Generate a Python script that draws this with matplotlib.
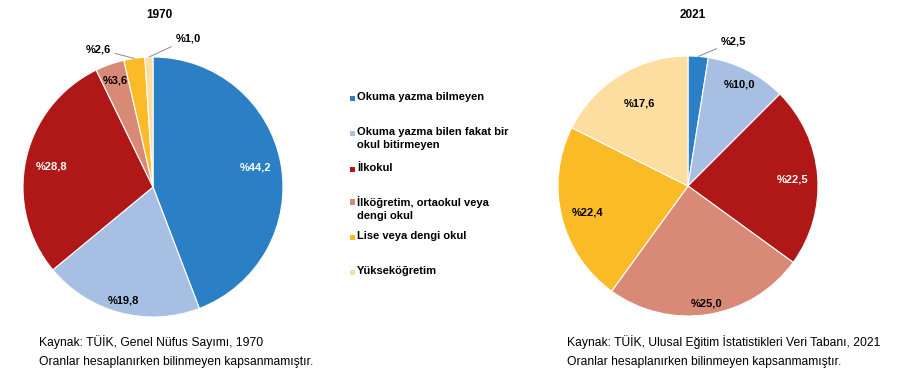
import numpy as np
import matplotlib
matplotlib.use('Agg')
import matplotlib.pyplot as plt
from matplotlib.patches import Rectangle

plt.rcParams['font.family'] = ['Liberation Sans', 'DejaVu Sans']

# data
categories = ['Okuma yazma bilmeyen',
              'Okuma yazma bilen fakat bir\nokul bitirmeyen',
              'İlkokul',
              'İlköğretim, ortaokul veya\ndengi okul',
              'Lise veya dengi okul',
              'Yükseköğretim']
values_1970 = [44.2, 19.8, 28.8, 3.6, 2.6, 1.0]
values_2021 = [2.5, 10.0, 22.5, 25.0, 22.4, 17.6]
colors = ['#2a7fc5', '#a6bfe3', '#b01818', '#d98a76', '#fbbb26', '#fddda0']
label_colors = ['white', 'black', 'white', 'black', 'black', 'black']

# label placement (in pie radius units) and which labels get leader lines
pos_1970 = [(0.79, 0.15), (-0.23, -0.87), (-0.78, 0.16), (-0.29, 0.82), (-0.42, 1.06), (0.27, 1.14)]
lead_1970 = [False, False, False, False, True, True]
pos_2021 = [(0.35, 1.11), (0.395, 0.78), (0.805, 0.05), (0.14, -0.90), (-0.77, -0.205), (-0.377, 0.636)]
lead_2021 = [True, False, False, False, False, False]

W, H = 899, 377
fig = plt.figure(figsize=(W / 100, H / 100), dpi=100)

R = 130      # pie radius in px
SPAN = 1.15  # axis half-range in radius units


def make_ax(cx, cy):
    half = SPAN * R
    ax = fig.add_axes([(cx - half) / W, (H - cy - half) / H, 2 * half / W, 2 * half / H])
    ax.set_xlim(-SPAN, SPAN)
    ax.set_ylim(-SPAN, SPAN)
    ax.axis('off')
    return ax


def draw_pie(ax, values, positions, leaders):
    wedges, _ = ax.pie(values, colors=colors, startangle=90, counterclock=False,
                       radius=1.0, wedgeprops=dict(edgecolor='white', linewidth=0.8))
    ax.set_xlim(-SPAN, SPAN)
    ax.set_ylim(-SPAN, SPAN)
    for w, v, (x, y), lead, tc in zip(wedges, values, positions, leaders, label_colors):
        txt = '%' + f'{v:.1f}'.replace('.', ',')
        if lead:
            mid = np.deg2rad((w.theta1 + w.theta2) / 2)
            ax.annotate(txt, xy=(np.cos(mid), np.sin(mid)), xytext=(x, y),
                        ha='center', va='center', fontsize=8, fontweight='bold',
                        color='black', annotation_clip=False,
                        arrowprops=dict(arrowstyle='-', color='#8c8c8c', lw=0.7,
                                        shrinkA=1, shrinkB=0))
        else:
            ax.text(x, y, txt, ha='center', va='center', fontsize=8,
                    fontweight='bold', color=tc)


ax1 = make_ax(153, 187)
draw_pie(ax1, values_1970, pos_1970, lead_1970)
ax2 = make_ax(688, 186)
draw_pie(ax2, values_2021, pos_2021, lead_2021)

# titles
fig.text(159 / W, 1 - 15 / H, '1970', ha='center', va='center', fontsize=8.5, fontweight='bold')
fig.text(693 / W, 1 - 15 / H, '2021', ha='center', va='center', fontsize=8.5, fontweight='bold')

# legend
leg_y = [98, 133, 169, 202, 237, 272]
for lab, col, y in zip(categories, colors, leg_y):
    fig.patches.append(Rectangle((349.5 / W, 1 - (y + 3) / H), 5.5 / W, 5.5 / H,
                                 transform=fig.transFigure, facecolor=col, edgecolor='none'))
    fig.text(357 / W, 1 - (y - 6) / H, lab, ha='left', va='top', fontsize=8,
             fontweight='bold', linespacing=1.35)

# footers
fig.text(39 / W, 1 - 342 / H, 'Kaynak: TÜİK, Genel Nüfus Sayımı, 1970', ha='left', va='center', fontsize=8.7)
fig.text(39 / W, 1 - 362 / H, 'Oranlar hesaplanırken bilinmeyen kapsanmamıştır.', ha='left', va='center', fontsize=8.7)
fig.text(567 / W, 1 - 342 / H, 'Kaynak: TÜİK, Ulusal Eğitim İstatistikleri Veri Tabanı, 2021', ha='left', va='center', fontsize=8.7)
fig.text(567 / W, 1 - 362 / H, 'Oranlar hesaplanırken bilinmeyen kapsanmamıştır.', ha='left', va='center', fontsize=8.7)

fig.savefig('out.png', dpi=100)
